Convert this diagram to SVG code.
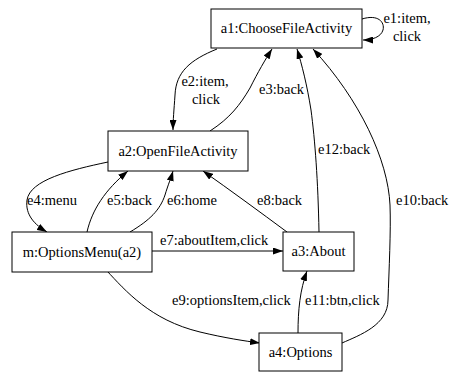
<svg xmlns="http://www.w3.org/2000/svg" width="449" height="372" viewBox="0 0 449 372" font-family="'Liberation Serif', 'DejaVu Serif', serif">
<style>
.node rect{fill:#fff;stroke:#000;stroke-width:1}
text{font-family:'Liberation Serif','DejaVu Serif',serif;font-size:14.5px;fill:#000}
.nl{text-anchor:middle}
.edge path{fill:none;stroke:#000;stroke-width:1;marker-end:url(#arr)}
</style>
<defs>
<marker id="arr" viewBox="0 0 10 7" refX="10" refY="3.5" markerWidth="10" markerHeight="7" markerUnits="userSpaceOnUse" orient="auto">
<path d="M0,0 L10,3.5 L0,7 z" fill="#000"/>
</marker>
</defs>
<rect width="449" height="372" fill="#fff"/>
<g id="edges" class="edge">
<path d="M362,19 C378,14 385,22 383,30 C381,37 372,40 363,40"/>
<path d="M217,49 C190,60 176,72 175,95 C174,110 173,120 173,130"/>
<path d="M210,131 C230,118 240,105 250,88 C258,72 265,60 272,49"/>
<path d="M319,232 C318,180 315,140 311,110 C307,85 302,65 297,49"/>
<path d="M342,343 C360,335 388,325 388,300 C389,270 391,230 390,205 C388,160 360,100 313,49"/>
<path d="M108,162 C70,170 30,180 27,200 C25,215 35,225 47,232"/>
<path d="M87,232 C92,210 105,190 128,171"/>
<path d="M130,232 C150,220 160,210 165,195 C168,185 171,178 173,171"/>
<path d="M152,251 L283,251"/>
<path d="M287,232 C260,212 230,190 203,171"/>
<path d="M107,271 C125,290 150,320 200,332 C225,338 245,341 260,343"/>
<path d="M298,333 C298,310 300,290 307,271"/>
<text x="407" y="23" class="nl">e1:item,</text>
<text x="407" y="41" class="nl">click</text>
<text x="205" y="86" class="nl">e2:item,</text>
<text x="206" y="104" class="nl">click</text>
<text x="259" y="94">e3:back</text>
<text x="27" y="205">e4:menu</text>
<text x="107" y="205">e5:back</text>
<text x="167" y="205">e6:home</text>
<text x="160" y="245">e7:aboutItem,click</text>
<text x="257" y="205">e8:back</text>
<text x="172" y="305">e9:optionsItem,click</text>
<text x="396" y="205">e10:back</text>
<text x="305" y="305">e11:btn,click</text>
<text x="318" y="154">e12:back</text>
</g>
<g id="a1" class="node"><rect x="211" y="9" width="151" height="39"/><text x="286.5" y="33" class="nl">a1:ChooseFileActivity</text></g>
<g id="a2" class="node"><rect x="108" y="131" width="140" height="40"/><text x="178" y="156" class="nl">a2:OpenFileActivity</text></g>
<g id="m" class="node"><rect x="12" y="232" width="140" height="40"/><text x="82" y="257" class="nl">m:OptionsMenu(a2)</text></g>
<g id="a3" class="node"><rect x="283" y="232" width="71" height="39"/><text x="318.5" y="256" class="nl">a3:About</text></g>
<g id="a4" class="node"><rect x="259" y="333" width="83" height="38"/><text x="300.5" y="357" class="nl">a4:Options</text></g>
</svg>
